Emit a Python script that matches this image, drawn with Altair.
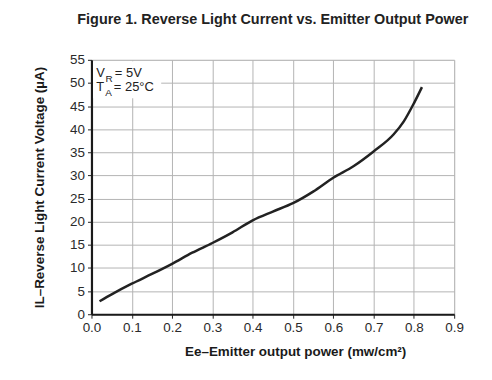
import altair as alt
import pandas as pd

# Curve data
power = [0.02, 0.05, 0.10, 0.15, 0.20, 0.25, 0.30, 0.35, 0.40, 0.45, 0.50,
         0.55, 0.60, 0.65, 0.70, 0.75, 0.775, 0.80, 0.82]
current = [2.8, 4.3, 6.6, 8.7, 10.9, 13.3, 15.4, 17.7, 20.3, 22.2, 24.0,
           26.5, 29.5, 32.0, 35.2, 38.9, 41.7, 45.6, 49.1]

x_ticks = [0.0, 0.1, 0.2, 0.3, 0.4, 0.5, 0.6, 0.7, 0.8, 0.9]
y_ticks = [0, 5, 10, 15, 20, 25, 30, 35, 40, 45, 50, 55]

# Annotation text pieces (main text and subscripts)
ann_text = ["V", "= 5V", "T", "= 25°C"]
ann_x = [0.0116, 0.058, 0.0116, 0.0555]
ann_y = [51.2, 51.2, 48.2, 48.2]
sub_text = ["R", "A"]
sub_x = [0.035, 0.034]
sub_y = [50.1, 47.1]

df = pd.DataFrame({"x": power, "y": current})
ann = pd.DataFrame({"t": ann_text, "x": ann_x, "y": ann_y})
sub = pd.DataFrame({"t": sub_text, "x": sub_x, "y": sub_y})
box = pd.DataFrame({"x": [0.004], "x2": [0.173], "y": [46.7], "y2": [54.7]})

FONT = "Liberation Sans"

xs = alt.Scale(domain=[0, 0.9], nice=False, zero=False)
ys = alt.Scale(domain=[0, 55], nice=False)

common = dict(grid=True, labelOverlap=False, labelFlush=False,
              labelFont=FONT, labelFontSize=13.5, labelColor="#2a2a2a",
              titleFont=FONT, titleFontSize=13.5, titleFontWeight="bold", titleColor="#1a1a1a",
              domainColor="#1a1a1a", domainWidth=2.2,
              tickColor="#222222", tickSize=4, tickWidth=1,
              gridColor="#b3b3b3", gridWidth=1)

x_axis = alt.Axis(values=x_ticks, format=".1f", title="Ee–Emitter output power (mw/cm²)",
                  titleX=205, titlePadding=11, labelPadding=2, **common)
y_axis = alt.Axis(values=y_ticks, title="IL–Reverse Light Current Voltage (µA)",
                  titlePadding=23, labelPadding=3, **common)

X = alt.X("x:Q", scale=xs, axis=x_axis)
Y = alt.Y("y:Q", scale=ys, axis=y_axis)

rect = alt.Chart(box).mark_rect(color="white").encode(x=X, x2="x2:Q", y=Y, y2="y2:Q")

line = alt.Chart(df).mark_line(color="#222222", strokeWidth=2.5, interpolate="monotone").encode(
    x=X, y=Y)

txt = alt.Chart(ann).mark_text(align="left", baseline="alphabetic", fontSize=13,
                               font=FONT, color="#222222").encode(x=X, y=Y, text="t:N")

subtxt = alt.Chart(sub).mark_text(align="left", baseline="alphabetic", fontSize=10,
                                  font=FONT, color="#222222").encode(x=X, y=Y, text="t:N")

chart = alt.layer(rect, line, txt, subtxt).properties(
    width=365, height=256,
    autosize=alt.AutoSizeParams(type="none"),
    padding={"left": 84, "top": 51, "right": 30, "bottom": 60},
    title=alt.TitleParams("Figure 1. Reverse Light Current vs. Emitter Output Power",
                          font=FONT, fontSize=14.5, fontWeight="bold", color="#222222",
                          anchor="middle", offset=26),
).configure_view(
    stroke="#333333", strokeWidth=1.5
).configure(background="white")

chart.save("out.html", embed_options={"renderer": "svg", "actions": False})
